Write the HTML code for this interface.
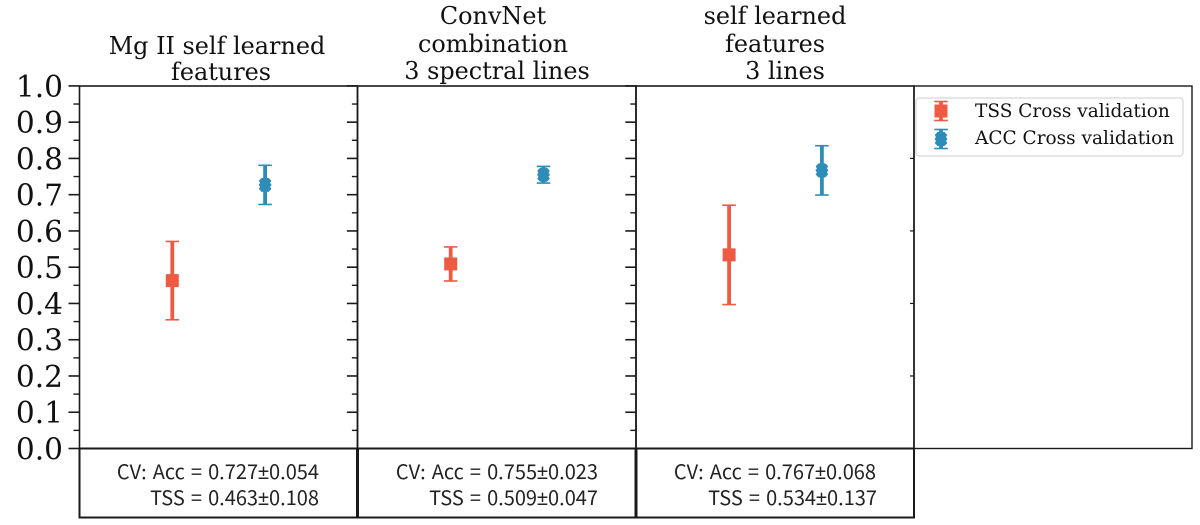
<!DOCTYPE html>
<html lang="en">
<head>
<meta charset="utf-8">
<title>Cross validation scores</title>
<style>
html,body{margin:0;padding:0;background:#fff;width:1200px;height:525px;overflow:hidden}
svg{display:block}
.title{font-family:"DejaVu Serif","Liberation Serif",serif;font-size:23.9px;fill:#111;text-anchor:middle}
.tick{font-family:"DejaVu Serif","Liberation Serif",serif;font-size:29.6px;fill:#111;text-anchor:end}
.stat{font-family:"Noto Sans CJK SC","Liberation Sans",sans-serif;font-size:20px;fill:#222;text-anchor:end;word-spacing:1.6px}
.stat .pm{font-family:"Liberation Sans",sans-serif}
.leg{font-family:"DejaVu Serif","Liberation Serif",serif;font-size:18.5px;fill:#111}
</style>
</head>
<body>
<svg id="chart" width="1200" height="525" viewBox="0 0 1200 525" xmlns="http://www.w3.org/2000/svg">
  <g id="ticks"></g>
  <g id="frames" fill="none" stroke="#1a1a1a">
    <rect x="79.5" y="86" width="278" height="362.5" stroke-width="1.6"/>
    <rect x="357.5" y="86" width="278.5" height="362.5" stroke-width="1.6"/>
    <rect x="636" y="86" width="278" height="362.5" stroke-width="1.6"/>
    <rect x="914" y="86" width="278" height="362.5" stroke-width="1.4"/>
    <rect x="79.5" y="448.5" width="278" height="69" stroke-width="2"/>
    <rect x="357.5" y="448.5" width="278.5" height="69" stroke-width="2"/>
    <rect x="636" y="448.5" width="278" height="69" stroke-width="2"/>
    <line x1="357.5" x2="357.5" y1="448.5" y2="517.5" stroke-width="3"/>
    <line x1="636" x2="636" y1="448.5" y2="517.5" stroke-width="3"/>
  </g>
  <g id="marks"></g>

  <g>
    <text class="title"><tspan x="217" y="54">Mg II self learned</tspan><tspan x="221" y="80">features</tspan></text>
    <text class="title"><tspan x="493" y="24">ConvNet</tspan><tspan x="493" y="52">combination</tspan><tspan x="497" y="79">3 spectral lines</tspan></text>
    <text class="title"><tspan x="775" y="24">self learned</tspan><tspan x="775" y="52">features</tspan><tspan x="785" y="79">3 lines</tspan></text>
  </g>

  <g>
    <text class="stat" x="319" y="479">CV: Acc = 0.727<tspan class="pm">±</tspan>0.054</text>
    <text class="stat" x="319" y="505">TSS = 0.463<tspan class="pm">±</tspan>0.108</text>
    <text class="stat" x="598" y="479">CV: Acc = 0.755<tspan class="pm">±</tspan>0.023</text>
    <text class="stat" x="598" y="505">TSS = 0.509<tspan class="pm">±</tspan>0.047</text>
    <text class="stat" x="876" y="479">CV: Acc = 0.767<tspan class="pm">±</tspan>0.068</text>
    <text class="stat" x="877" y="505">TSS = 0.534<tspan class="pm">±</tspan>0.137</text>
  </g>

  <g>
    <rect x="916" y="98" width="267" height="58" rx="3" fill="#fff" stroke="#d6d6d6" stroke-width="1.2"/>
    <g id="legend-keys"></g>
    <text class="leg" x="975" y="117">TSS Cross validation</text>
    <text class="leg" x="975" y="144">ACC Cross validation</text>
  </g>
</svg>
<script>
const categories = ["Mg II self learned features", "ConvNet combination 3 spectral lines", "self learned features 3 lines"];
const tssMean = [0.463, 0.509, 0.534];
const tssErr = [0.108, 0.047, 0.137];
const accMean = [0.727, 0.755, 0.767];
const accErr = [0.054, 0.023, 0.068];
const yTickLabels = ["0.0", "0.1", "0.2", "0.3", "0.4", "0.5", "0.6", "0.7", "0.8", "0.9", "1.0"];
const rightPanelTicks = [0.2, 0.4, 0.6, 0.8];

const NS = "http://www.w3.org/2000/svg";
const RED = "#ee5a42";
const BLUE = "#2e8cb8";
const panelLeft = 79.5;
const panelWidth = 278.4;

function yScale(v) { return 448.5 - v * 362.6; }
function xScale(panelIndex, seriesPosition) {
  return panelLeft + panelWidth * panelIndex + panelWidth * seriesPosition / 3;
}
function make(tag, attrs, parent) {
  const el = document.createElementNS(NS, tag);
  for (const k in attrs) el.setAttribute(k, attrs[k]);
  parent.appendChild(el);
  return el;
}
function hline(parent, x1, x2, y, width, color) {
  return make("line", { x1: x1, x2: x2, y1: y, y2: y, stroke: color, "stroke-width": width }, parent);
}
function drawError(group, x, mean, err, color, shape) {
  const top = yScale(mean + err);
  const bottom = yScale(mean - err);
  make("line", { x1: x, x2: x, y1: top, y2: bottom, stroke: color, "stroke-width": 3.8 }, group);
  hline(group, x - 6.8, x + 6.8, top, 1.6, color);
  hline(group, x - 6.8, x + 6.8, bottom, 1.6, color);
  drawMarker(group, x, yScale(mean), color, shape);
}
function drawMarker(group, x, y, color, shape) {
  if (shape === "square") {
    make("rect", { x: x - 6.5, y: y - 6.5, width: 13, height: 13, fill: color }, group);
  } else {
    const pts = [[x - 3.5, y - 7], [x + 3.5, y - 7], [x + 6.3, y - 4], [x + 5, y - 2], [x + 6.5, y], [x + 5, y + 2], [x + 6.3, y + 4], [x + 3.5, y + 7], [x - 3.5, y + 7], [x - 6.3, y + 4], [x - 5, y + 2], [x - 6.5, y], [x - 5, y - 2], [x - 6.3, y - 4]];
    make("polygon", { points: pts.map(p => p.join(",")).join(" "), fill: color }, group);
  }
}

const ticksGroup = document.getElementById("ticks");
const marksGroup = document.getElementById("marks");
const keysGroup = document.getElementById("legend-keys");

yTickLabels.forEach(function (label, i) {
  const value = parseFloat(label);
  const y = yScale(value);
  for (let p = 0; p < 3; p++) {
    const x = panelLeft + panelWidth * p;
    const major = hline(ticksGroup, x - 11, x, y, 1.6, "#1a1a1a");
    
    
    if (i < yTickLabels.length - 1) {
      const minor = hline(ticksGroup, x - 6, x, yScale(value + 0.05), 1.4, "#1a1a1a");
      
      
    }
  }
  const text = make("text", { class: "tick", x: 63, y: y + 11 }, ticksGroup);
  text.textContent = label;
  
  
});

rightPanelTicks.forEach(function (value) {
  const tick = hline(ticksGroup, 910, 914, yScale(value), 1.2, "#1a1a1a");
  
  
});

categories.forEach(function (name, p) {
  const tssGroup = make("g", {}, marksGroup);
  
  
  drawError(tssGroup, xScale(p, 1), tssMean[p], tssErr[p], RED, "square");
  const accGroup = make("g", {}, marksGroup);
  
  
  drawError(accGroup, xScale(p, 2), accMean[p], accErr[p], BLUE, "diamond");
});

function legendKey(y, color, shape) {
  const g = make("g", {}, keysGroup);
  
  
  const x = 941;
  make("line", { x1: x, x2: x, y1: y - 9.5, y2: y + 9.5, stroke: color, "stroke-width": 3.8 }, g);
  hline(g, x - 6.8, x + 6.8, y - 9.5, 1.6, color);
  hline(g, x - 6.8, x + 6.8, y + 9.5, 1.6, color);
  drawMarker(g, x, y, color, shape);
}
legendKey(111, RED, "square");
legendKey(139, BLUE, "diamond");
</script>
</body>
</html>
